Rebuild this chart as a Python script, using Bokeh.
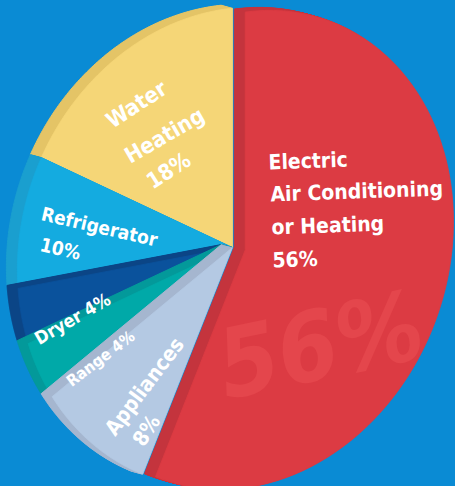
import numpy as np
from bokeh.plotting import figure
from bokeh.models import Range1d, GlobalInlineStyleSheet
from bokeh.core.properties import value
from bokeh.embed import file_html
from bokeh.resources import INLINE

# ---------------- data ----------------
categories = ["Electric Air Conditioning or Heating", "Appliances", "Range",
              "Dryer", "Refrigerator", "Water Heating"]
shares = [56, 8, 4, 4, 10, 18]          # percent, clockwise from 12 o'clock
name_lines = [["Electric", "Air Conditioning", "or Heating"],
              ["Appliances"], ["Range"], ["Dryer"], ["Refrigerator"],
              ["Water", "Heating"]]
pct_on_own_line = [True, True, False, False, True, True]

# ---------------- styles ----------------
BG = "#0a8bd4"
face_colors = ["#dc3b43", "#b4c9e3", "#00a9a8", "#0a529c", "#14abe0", "#f5d677"]
side_colors = ["#c4343d", "#a5b6cf", "#03999a", "#0b4586", "#1a9fcf", "#e4c466"]
FONT = "DejaVu Sans Condensed, Roboto, sans-serif"

W, H = 455, 486
CX, CY = 232.0, 247.0
A_AX, PHI = 244.0, np.radians(20)
B_EXPLODED, B_REST = 203.0, 211.0
EXPLODE = 13.0
DEPTH = (-11.0, -3.0)

p = figure(width=W, height=H, output_backend="svg", toolbar_location=None,
           x_range=Range1d(0, W), y_range=Range1d(H, 0),
           x_axis_location=None, y_axis_location=None, min_border=0,
           background_fill_color=BG, border_fill_color=BG)
p.grid.visible = False
p.outline_line_color = None
p.stylesheets = [GlobalInlineStyleSheet(css="html, body { background: %s; overflow: hidden; }" % BG)]


def radius(t, b_ax):
    u = np.sin(t) * np.sin(PHI) + np.cos(t) * np.cos(PHI)
    v = np.sin(t) * np.cos(PHI) - np.cos(t) * np.sin(PHI)
    return 1.0 / np.sqrt((u / A_AX) ** 2 + (v / b_ax) ** 2)


bounds = np.concatenate([[0], np.cumsum(shares)]) / 100.0 * 2 * np.pi
polys = []
for i in range(len(shares)):
    t0, t1 = bounds[i], bounds[i + 1]
    mid = 0.5 * (t0 + t1)
    off = EXPLODE if i == 0 else 0.0
    b_ax = B_EXPLODED if i == 0 else B_REST
    cx = CX + off * np.sin(mid)
    cy = CY - off * np.cos(mid)
    ts = np.linspace(t0, t1, 90)
    r = radius(ts, b_ax)
    xs = np.concatenate([[cx], cx + r * np.sin(ts)])
    ys = np.concatenate([[cy], cy - r * np.cos(ts)])
    polys.append((xs, ys))

order = [5, 4, 3, 2, 1, 0]
for i in order:
    xs, ys = polys[i]
    sx, sy = [], []
    for k in np.linspace(0, 1, 13)[1:]:
        sx.append([float(v) for v in xs + k * DEPTH[0]])
        sy.append([float(v) for v in ys + k * DEPTH[1]])
    p.patches(sx, sy, fill_color=side_colors[i], line_color=side_colors[i], line_width=1)
    p.patch([float(v) for v in xs], [float(v) for v in ys],
            fill_color=face_colors[i], line_color=face_colors[i], line_width=0.8)

# watermark
p.text(x=[320], y=[345], text=[f"{shares[0]}%"], angle=[12], angle_units="deg",
       text_font=value(FONT), text_font_size="96px", text_font_style="bold italic",
       text_color="#e4464c", text_align="center", text_baseline="middle")

# main label (left aligned)
red_lines = name_lines[0] + [f"{shares[0]}%"]
p.text(x=[268, 270, 271, 272], y=[162, 194, 227, 260], text=red_lines,
       angle=2, angle_units="deg", text_font=value(FONT), text_font_size="21px",
       text_font_style="bold", text_color="white", text_align="left",
       text_baseline="alphabetic")

# other labels (centered, rotated)
def lines_for(i):
    if pct_on_own_line[i]:
        return name_lines[i] + [f"{shares[i]}%"]
    return [name_lines[i][0] + f" {shares[i]}%"]

layout = {
    5: ([136, 164, 168], [104, 135, 170], [33, 30, 33], 22),
    4: ([99, 60], [226, 248], [-13, -13], 19),
    3: ([72], [318], [30], 18),
    2: ([100], [358], [37], 16),
    1: ([144, 146], [386, 430], [53, 57], 21),
}
for i, (lx, ly, la, sz) in layout.items():
    p.text(x=lx, y=ly, text=lines_for(i), angle=la, angle_units="deg",
           text_font=value(FONT), text_font_size=f"{sz}px", text_font_style="bold",
           text_color="white", text_align="center", text_baseline="middle")

open("out.html", "w").write(file_html(p, INLINE))
